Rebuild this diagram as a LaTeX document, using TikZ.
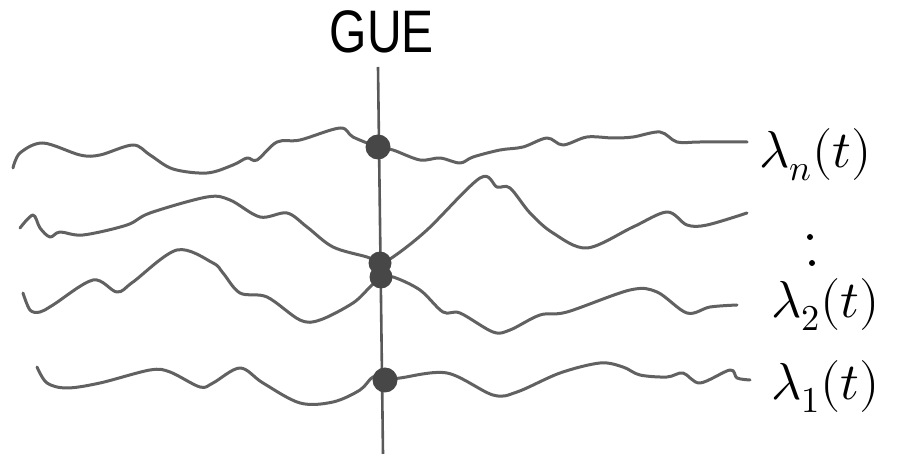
\documentclass[tikz,border=0pt]{standalone}
\usepackage{fontspec}
\usepackage{unicode-math}
\setmainfont{Liberation Sans}
\setmathfont{Latin Modern Math}
\begin{document}
\begin{tikzpicture}[x=1pt,y=-1pt,
  path/.style={draw=black!62,line width=3pt,line cap=round,line join=round},
  dot/.style={circle,fill=black!72,inner sep=0pt,minimum size=25pt},
  lab/.style={anchor=base west,text=black,font=\fontsize{52}{52}\selectfont}]
\useasboundingbox (0,0) rectangle (898,454);
% vertical GUE line
\coordinate (vtop) at (378,67);
\coordinate (vbot) at (383,454);
\draw[draw=black!65,line width=2.6pt] (vtop) -- (vbot);
\node[font=\fontsize{60}{60}\selectfont,xscale=0.8,anchor=base] (gue) at (382,53) {GUE};
% paths
\draw[path] plot[smooth,tension=0.55] coordinates {(13,168) (20,153) (43,143) (80,155) (100,155) (133,145) (150,155) (173,169) (207,173) (233,165) (247,158) (257,160) (277,142) (300,140) (340,128) (353,137) (378,147) (393,150) (420,160) (440,158) (460,163) (473,157) (500,150) (523,147) (547,138) (563,145) (587,137) (613,138) (633,137) (660,132) (677,142) (700,142) (747,142)};
\draw[path] plot[smooth,tension=0.55] coordinates {(20,228) (33,215) (40,228) (50,237) (60,232) (83,235) (127,225) (150,213) (207,197) (230,200) (260,217) (287,213) (307,227) (333,247) (367,257) (380,262) (393,257) (427,230) (480,178) (497,187) (510,188) (530,213) (553,233) (587,248) (633,227) (667,212) (687,225) (707,225) (747,213)};
\draw[path] plot[smooth,tension=0.55] coordinates {(23,293) (30,310) (40,312) (53,305) (93,280) (117,292) (133,282) (177,250) (213,263) (223,273) (240,293) (267,297) (300,320) (320,320) (353,303) (370,287) (380,278) (393,277) (420,290) (443,312) (460,313) (493,332) (510,330) (540,315) (567,312) (630,290) (657,292) (687,313) (710,307) (737,305)};
\draw[path] plot[smooth,tension=0.55] coordinates {(37,367) (47,383) (67,388) (100,383) (150,370) (170,372) (200,387) (213,383) (240,368) (263,383) (300,403) (333,402) (360,390) (373,377) (385,380) (400,378) (447,373) (493,395) (517,392) (560,373) (600,363) (623,367) (640,375) (667,377) (683,373) (700,383) (730,370) (737,378) (750,380)};
% dots
\node[dot] (dn) at (378,147) {};
\node[dot,minimum size=23pt] (d2a) at (380,263) {};
\node[dot,minimum size=23pt] (d2b) at (381,277) {};
\node[dot] (d1) at (385,380) {};
% labels
\node[lab] (ln) at (756,168) {$\lambda_n(t)$};
\node[lab] (l2) at (768,318) {$\lambda_2(t)$};
\node[lab] (l1) at (768,400) {$\lambda_1(t)$};
\fill (810,237) circle (3pt) coordinate (e1);
\fill (812,263) circle (3pt) coordinate (e2);
\end{tikzpicture}
\end{document}
